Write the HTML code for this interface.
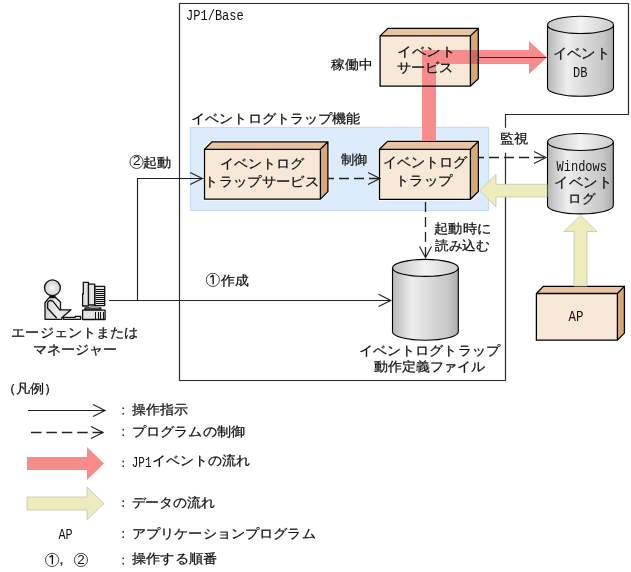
<!DOCTYPE html>
<html><head><meta charset="utf-8">
<style>
html,body{margin:0;padding:0;background:#fff;}
body{width:631px;height:572px;position:relative;overflow:hidden;font-family:"Liberation Sans",sans-serif;}
svg{position:absolute;left:0;top:0;}
</style></head><body>
<svg width="631" height="572" viewBox="0 0 631 572">
<defs>
<linearGradient id="cyl" x1="0" x2="1" y1="0" y2="0">
<stop offset="0" stop-color="#b4b4b4"/><stop offset="0.08" stop-color="#c6c6c6"/><stop offset="0.3" stop-color="#eeeeee"/><stop offset="0.55" stop-color="#dadada"/><stop offset="0.85" stop-color="#c6c6c6"/><stop offset="1" stop-color="#acacac"/>
</linearGradient>
<linearGradient id="cyltop" x1="0" x2="1" y1="0" y2="0">
<stop offset="0" stop-color="#c2c2c2"/><stop offset="0.5" stop-color="#f2f2f2"/><stop offset="1" stop-color="#cccccc"/>
</linearGradient>
<radialGradient id="hd" cx="0.5" cy="0.5" r="0.6"><stop offset="0" stop-color="#fafafa"/><stop offset="1" stop-color="#c4c4c4"/></radialGradient>
<linearGradient id="bd" x1="0" x2="1"><stop offset="0" stop-color="#d0d0d0"/><stop offset="0.5" stop-color="#f0f0f0"/><stop offset="1" stop-color="#cfcfcf"/></linearGradient>
</defs>
<path d="M179.5 3.5H628.5V114.5H505.5V380.5H179.5Z" fill="none" stroke="#2a2a2a" stroke-width="1.2"/>
<rect x="190.5" y="127.5" width="298" height="83" fill="#ddecfc" stroke="#c2ddf7" stroke-width="1.2"/>
<path d="M204.5 149.3L212.0 141.8H327.9V191.6L320.4 199.1H204.5Z" fill="none" stroke="#f4faff" stroke-width="3.2"/><polygon points="204.5,149.3 212.0,141.8 327.9,141.8 320.4,149.3" fill="#e8c5a0"/><polygon points="320.4,149.3 327.9,141.8 327.9,191.6 320.4,199.1" fill="#d9a877"/><rect x="204.5" y="149.3" width="115.90" height="49.80" fill="#f8e8d8"/>
<path d="M204.5 149.3L212.0 141.8H327.9V191.6L320.4 199.1H204.5ZM204.5 149.3H320.4V199.1M320.4 149.3L327.9 141.8" fill="none" stroke="#000" stroke-width="1.3" stroke-linejoin="miter"/>
<path d="M379.5 149.3L387.5 141.4H478.4V191.4L470.4 199.3H379.5Z" fill="none" stroke="#f4faff" stroke-width="3.2"/><polygon points="379.5,149.3 387.5,141.4 478.4,141.4 470.4,149.3" fill="#e8c5a0"/><polygon points="470.4,149.3 478.4,141.4 478.4,191.4 470.4,199.3" fill="#d9a877"/><rect x="379.5" y="149.3" width="90.90" height="50.00" fill="#f8e8d8"/>
<path d="M379.5 149.3L387.5 141.4H478.4V191.4L470.4 199.3H379.5ZM379.5 149.3H470.4V199.3M470.4 149.3L478.4 141.4" fill="none" stroke="#000" stroke-width="1.3" stroke-linejoin="miter"/>
<polygon points="536.4,293.5 543.4,286.4 624.4,286.4 617.4,293.5" fill="#e8c5a0"/><polygon points="617.4,293.5 624.4,286.4 624.4,333.09999999999997 617.4,340.2" fill="#d9a877"/><rect x="536.4" y="293.5" width="81.00" height="46.70" fill="#f8e8d8"/>
<path d="M536.4 293.5L543.4 286.4H624.4V333.09999999999997L617.4 340.2H536.4ZM536.4 293.5H617.4V340.2M617.4 293.5L624.4 286.4" fill="none" stroke="#000" stroke-width="1.3" stroke-linejoin="miter"/>
<polygon points="380.1,35.9 388.0,28.4 478.29999999999995,28.4 470.4,35.9" fill="#e8c5a0"/><polygon points="470.4,35.9 478.29999999999995,28.4 478.29999999999995,78.6 470.4,86.1" fill="#d9a877"/><rect x="380.1" y="35.9" width="90.30" height="50.20" fill="#f8e8d8"/>
<path d="M422 141V50H529V41L547 57.5L529 74V64H436V141Z" fill="#f88c8c"/>
<rect x="470.4" y="50" width="7.9" height="14" fill="#cf6a62"/>
<line x1="478.5" y1="57.5" x2="546.5" y2="57.5" stroke="#3a2424" stroke-width="1.1"/>
<path d="M380.1 35.9L388.0 28.4H478.29999999999995V78.6L470.4 86.1H380.1ZM380.1 35.9H470.4V86.1M470.4 35.9L478.29999999999995 28.4" fill="none" stroke="#000" stroke-width="1.3" stroke-linejoin="miter"/>
<path d="M547.5 24.9V87.7A33 8.6 0 0 0 613.5 87.7V24.9" fill="url(#cyl)" stroke="#000" stroke-width="1.1"/><ellipse cx="580.5" cy="24.9" rx="33" ry="8.6" fill="url(#cyltop)" stroke="#000" stroke-width="1.1"/>
<path d="M547.5 142V205.4A32.9 8.5 0 0 0 613.3 205.4V142" fill="url(#cyl)" stroke="#000" stroke-width="1.1"/><ellipse cx="580.4" cy="142" rx="32.9" ry="8.5" fill="url(#cyltop)" stroke="#000" stroke-width="1.1"/>
<path d="M392.5 267.9V331.8A32.9 8.5 0 0 0 458.29999999999995 331.8V267.9" fill="url(#cyl)" stroke="#000" stroke-width="1.1"/><ellipse cx="425.4" cy="267.9" rx="32.9" ry="8.5" fill="url(#cyltop)" stroke="#000" stroke-width="1.1"/>
<path d="M547 184.3H496V174.4L479.6 190.6L496 206.8V197H547Z" fill="#eeecbc" stroke="#c4c4b0" stroke-width="0.8"/>
<path d="M574 286V231.5H564L580.5 215.3L597 231.5H587V286Z" fill="#eeecbc" stroke="#c4c4b0" stroke-width="0.8"/>
<rect x="500" y="127.8" width="12" height="25" fill="#fff"/>
<g stroke="#222" stroke-width="1.15" fill="none">
<path d="M109 300.5H391"/>
<path d="M378.6 294.3L390.7 300.5L378.6 306.5"/>
<path d="M137.5 300V178.5H204"/>
<path d="M190.2 172.4L202.2 178.5L190.2 184.4"/>
<path d="M328 178.5H380" stroke-dasharray="10 5" stroke-dashoffset="4" stroke-width="1.3"/>
<path d="M368 172.4L380 178.5L368 184.4"/>
<path d="M478 157.5H546" stroke-dasharray="10 5" stroke-dashoffset="4" stroke-width="1.3"/>
<path d="M534 151.5L546 157.5L534 163.5"/>
<path d="M425.5 202V257" stroke-dasharray="10 5" stroke-width="1.3"/>
<path d="M419.5 246.5L425.5 257.5L431.5 246.5"/>
</g>
<g stroke="#111" stroke-width="1.3" stroke-linejoin="round">
<circle cx="52.4" cy="287.8" r="7.9" fill="url(#hd)"/>
<path d="M49.3 297.5L45 302.5V319.3H61.8V317.8L71 309.8H60.5V302.3L55.6 297.5Z" fill="url(#bd)"/>
<path d="M60.2 310.3L52.8 301.2C51.2 299.9 48.2 300.4 47.6 303V308.2L56.8 318.2" fill="none"/>
<line x1="49.3" y1="296.8" x2="55.6" y2="296.8" stroke-width="1.6"/>
<path d="M63.3 317.3H75.3V316.3H80.6V319.3H63.3Z" fill="#e8e8e8"/>
<path d="M83.3 282.4H88.5V306H82.6V294H83.3Z" fill="#e4e4e4"/>
<rect x="88.5" y="284.2" width="6.2" height="20.8" fill="#e4e4e4"/>
<rect x="95" y="286.4" width="9.7" height="19.2" fill="#e4e4e4"/>
<rect x="85" y="308" width="15.8" height="2" fill="#ddd"/>
<rect x="82.6" y="310.2" width="22.5" height="9.3" fill="#e4e4e4"/>
</g>
<g stroke="#111" stroke-width="1" shape-rendering="crispEdges">
<path d="M95.5 289.5H104.5M95.5 291.5H104.5M95.5 293.5H104.5M95.5 295.5H104.5M95.5 297.5H104.5M95.5 299.5H104.5M95.5 301.5H104.5M95.5 303.5H104.5"/>
<path d="M95.5 312V318.5M98.5 312V318.5M100.5 312V318.5M103.5 312V318.5"/>
<rect x="90" y="306" width="8.6" height="1.8" fill="#999" stroke="none"/>
</g>
<g stroke="#222" stroke-width="1.15" fill="none">
<path d="M28 410.5H105"/>
<path d="M93 404.5L105 410.5L93 416.5"/>
<path d="M31 432.5H103" stroke-dasharray="10.5 4.9" stroke-width="1.4"/>
<path d="M91 426.5L103 432.5L91 438.5"/>
</g>
<path d="M27 457H87V447L104 463.5L87 480V470H27Z" fill="#f88c8c"/>
<path d="M27 497H87V487L104 503.5L87 520V510H27Z" fill="#eeecbc" stroke="#c4c4b0" stroke-width="0.8"/>
</svg>
<svg width="631" height="572" viewBox="0 0 631 572" style="position:absolute;left:0;top:0;will-change:transform">
<g fill="#111" stroke="#111" stroke-width="0.25" font-family="Liberation Sans, sans-serif">
<text x="186.04" y="20.40" font-size="14.00" textLength="57.72" lengthAdjust="spacingAndGlyphs" font-family="Liberation Mono, monospace" stroke="none">JP1/Base</text>
<text x="331.47" y="68.50" font-size="12.88" textLength="41.51" lengthAdjust="spacingAndGlyphs">稼働中</text>
<text x="397.11" y="55.60" font-size="12.80" textLength="58.38" lengthAdjust="spacingAndGlyphs">イベント</text>
<text x="396.57" y="71.80" font-size="12.80" textLength="56.81" lengthAdjust="spacingAndGlyphs">サービス</text>
<text x="552.54" y="58.40" font-size="14.00" textLength="57.33" lengthAdjust="spacingAndGlyphs">イベント</text>
<text x="573.12" y="76.60" font-size="14.00" textLength="14.42" lengthAdjust="spacingAndGlyphs" font-family="Liberation Mono, monospace" stroke="none">DB</text>
<text x="191.18" y="123.00" font-size="12.81" textLength="169.23" lengthAdjust="spacingAndGlyphs">イベントログトラップ機能</text>
<text x="220.15" y="167.90" font-size="13.40" textLength="84.17" lengthAdjust="spacingAndGlyphs">イベントログ</text>
<text x="204.49" y="186.10" font-size="12.80" textLength="114.37" lengthAdjust="spacingAndGlyphs">トラップサービス</text>
<text x="341.05" y="164.20" font-size="12.81" textLength="26.49" lengthAdjust="spacingAndGlyphs">制御</text>
<text x="382.77" y="167.30" font-size="14.00" textLength="84.20" lengthAdjust="spacingAndGlyphs">イベントログ</text>
<text x="394.68" y="184.60" font-size="13.15" textLength="57.93" lengthAdjust="spacingAndGlyphs">トラップ</text>
<text x="500.17" y="143.40" font-size="12.80" textLength="28.36" lengthAdjust="spacingAndGlyphs">監視</text>
<text x="556.61" y="170.90" font-size="14.00" textLength="50.30" lengthAdjust="spacingAndGlyphs" font-family="Liberation Mono, monospace" stroke="none">Windows</text>
<text x="554.51" y="186.70" font-size="14.00" textLength="57.51" lengthAdjust="spacingAndGlyphs">イベント</text>
<text x="568.42" y="203.00" font-size="13.25" textLength="26.72" lengthAdjust="spacingAndGlyphs">ログ</text>
<text x="143.02" y="166.80" font-size="13.02" textLength="28.36" lengthAdjust="spacingAndGlyphs">起動</text>
<text x="132.99" y="164.90" font-size="13.50" textLength="7.51" lengthAdjust="spacingAndGlyphs" stroke="none">2</text>
<text x="434.11" y="232.90" font-size="12.80" textLength="57.08" lengthAdjust="spacingAndGlyphs">起動時に</text>
<text x="435.12" y="250.10" font-size="12.80" textLength="54.37" lengthAdjust="spacingAndGlyphs">読み込む</text>
<text x="220.80" y="284.90" font-size="12.80" textLength="27.68" lengthAdjust="spacingAndGlyphs">作成</text>
<text x="568.62" y="320.90" font-size="14.00" textLength="14.90" lengthAdjust="spacingAndGlyphs" font-family="Liberation Mono, monospace" stroke="none">AP</text>
<text x="359.21" y="354.60" font-size="12.80" textLength="140.49" lengthAdjust="spacingAndGlyphs">イベントログトラップ</text>
<text x="373.58" y="370.70" font-size="12.80" textLength="111.85" lengthAdjust="spacingAndGlyphs">動作定義ファイル</text>
<text x="11.37" y="336.60" font-size="13.02" textLength="127.24" lengthAdjust="spacingAndGlyphs">エージェントまたは</text>
<text x="32.71" y="353.80" font-size="12.80" textLength="84.79" lengthAdjust="spacingAndGlyphs">マネージャー</text>
<text x="1.66" y="393.10" font-size="12.80" textLength="56.72" lengthAdjust="spacingAndGlyphs">（凡例）</text>
<text x="132.02" y="413.90" font-size="12.80" textLength="55.87" lengthAdjust="spacingAndGlyphs">操作指示</text>
<text x="131.86" y="436.20" font-size="13.16" textLength="113.07" lengthAdjust="spacingAndGlyphs">プログラムの制御</text>
<text x="131.76" y="467.00" font-size="14.00" textLength="19.80" lengthAdjust="spacingAndGlyphs" font-family="Liberation Mono, monospace" stroke="none">JP1</text>
<text x="152.47" y="465.40" font-size="12.80" textLength="97.51" lengthAdjust="spacingAndGlyphs">イベントの流れ</text>
<text x="131.57" y="506.70" font-size="12.80" textLength="83.51" lengthAdjust="spacingAndGlyphs">データの流れ</text>
<text x="58.49" y="538.60" font-size="14.00" textLength="14.14" lengthAdjust="spacingAndGlyphs" font-family="Liberation Mono, monospace" stroke="none">AP</text>
<text x="131.86" y="537.60" font-size="12.80" textLength="183.84" lengthAdjust="spacingAndGlyphs">アプリケーションプログラム</text>
<text x="77.24" y="563.50" font-size="13.50" textLength="7.51" lengthAdjust="spacingAndGlyphs" stroke="none">2</text>
<text x="132.02" y="563.30" font-size="12.80" textLength="85.10" lengthAdjust="spacingAndGlyphs">操作する順番</text>
</g>
<g fill="#333">
<rect x="122.4" y="407.5" width="1.6" height="1.6"/><rect x="122.4" y="413.0" width="1.6" height="1.6"/>
<rect x="122.4" y="428.9" width="1.6" height="1.6"/><rect x="122.4" y="434.4" width="1.6" height="1.6"/>
<rect x="122.4" y="460.7" width="1.6" height="1.6"/><rect x="122.4" y="465.4" width="1.6" height="1.6"/>
<rect x="122.4" y="500.4" width="1.6" height="1.6"/><rect x="122.4" y="505.3" width="1.6" height="1.6"/>
<rect x="122.4" y="531.0" width="1.6" height="1.6"/><rect x="122.4" y="536.4" width="1.6" height="1.6"/>
<rect x="122.4" y="557.6" width="1.6" height="1.6"/><rect x="122.4" y="562.9" width="1.6" height="1.6"/>
<path d="M60.6 562.2h1.8v2.2l-1 1.6h-0.8l0.9-1.6h-0.9z"/>
</g>
<g fill="none" stroke="#333" stroke-width="0.9">
<circle cx="136.55" cy="161.9" r="6.6"/>
<circle cx="212.85" cy="279.85" r="6.6"/>
<circle cx="52.1" cy="559.9" r="6.6"/>
<circle cx="80.95" cy="559.9" r="6.6"/>
</g>
<g fill="none" stroke="#111" stroke-width="1.35">
<path d="M213.15 275.15V284.15M210.25 277.25L213.15 275.15"/>
<path d="M52.40 555.20V564.20M49.50 557.30L52.40 555.20"/>
</g></svg>
</body></html>
